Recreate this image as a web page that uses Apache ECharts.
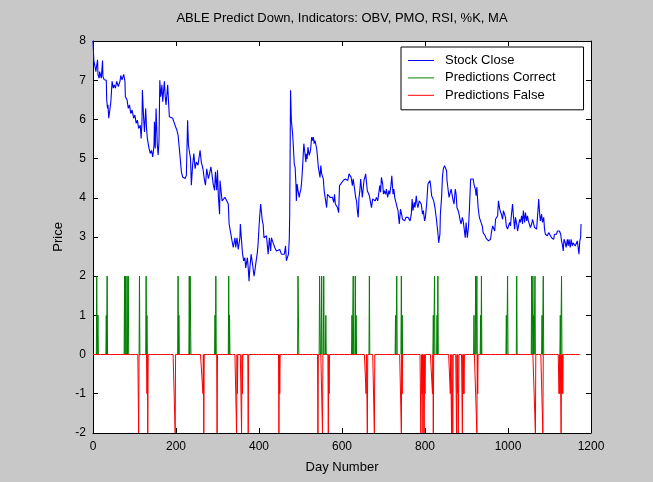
<!DOCTYPE html>
<html><head><meta charset="utf-8">
<script src="https://cdn.jsdelivr.net/npm/echarts@6/dist/echarts.min.js"></script>
<style>html,body{margin:0;padding:0;background:#c8c8c8}#c{width:653px;height:482px}</style>
</head><body><div id="c"></div>
<script>
const titleText = 'ABLE Predict Down, Indicators: OBV, PMO, RSI, %K, MA';
const xName = 'Day Number';
const yName = 'Price';
const seriesNames = ['Stock Close', 'Predictions Correct', 'Predictions False'];
const lastDay = 1173;

const closeDay = [0,2,4,7,8,11,12,15,16,19,20,23,24,27,30,32,33,35,36,38,41,43,46,49,51,54,57,61,65,67,70,74,77,78,82,85,88,91,94,98,101,104,107,110,114,116,118,119,122,124,127,129,131,135,138,141,144,147,148,150,152,155,157,159,161,163,166,168,172,174,176,180,182,184,188,192,196,199,202,205,208,211,213,216,219,222,225,228,230,233,235,237,240,243,246,249,253,256,258,261,265,268,271,274,278,281,284,287,290,293,295,298,300,302,
303,305,306,308,311,314,318,322,326,328,331,335,338,342,344,347,350,354,355,358,360,363,366,368,372,374,376,378,381,384,388,390,392,396,398,400,402,404,406,408,410,412,415,418,422,425,428,430,434,438,442,446,450,454,458,461,464,466,469,471,473,474,476,478,481,482,485,487,489,490,492,494,497,498,501,503,505,508,510,513,514,516,518,521,524,527,529,531,533,535,539,541,543,547,549,551,555,557,559,563,565,567,571,575,577,580,582,584,587,589,592,594,596,
603,608,614,617,622,625,627,630,633,635,637,639,641,643,645,647,649,653,655,657,659,661,663,666,669,671,674,677,680,683,686,689,691,693,695,698,700,702,705,707,710,713,715,718,720,723,725,727,730,733,735,738,741,743,746,749,751,754,757,759,762,764,767,769,771,774,776,779,781,783,786,789,791,794,796,799,801,804,807,809,812,814,816,819,821,824,826,828,831,833,836,837,840,842,844,847,849,852,853,856,858,861,863,865,868,870,873,875,877,880,882,885,887,890,892,894,897,899,
900,902,905,907,910,911,914,916,918,920,922,923,925,927,928,930,931,933,935,938,940,943,945,947,950,953,955,958,960,963,965,968,970,972,975,977,980,982,984,987,989,992,994,996,999,1001,1004,1006,1008,1011,1013,1016,1018,1021,1023,1025,1028,1030,1033,1035,1037,1040,1042,1045,1047,1049,1052,1054,1057,1059,1061,1064,1066,1069,1071,1074,1076,1078,1081,1083,1086,1088,1090,1093,1095,1098,1100,1102,1105,1107,1110,1112,1114,1117,1119,1122,1124,1127,1129,1131,1133,1135,1138,1140,1143,1145,1147,1150,1152,1155,1157,1159,1162,1164,1167,1169,1171,1173,1175,1176];
const closePrice = [8.0,7.5,7.39,7.22,7.31,7.52,7.14,7.05,7.22,7.18,7.05,7.5,7.09,7.01,7.01,7.0,6.5,6.28,6.37,6.03,6.28,6.45,6.97,6.8,6.88,6.8,6.97,6.84,6.97,7.12,7.01,7.15,6.97,6.58,6.5,6.28,6.37,6.15,6.24,6.03,6.11,5.9,5.98,5.77,5.85,5.51,5.94,6.75,6.03,5.68,6.28,5.77,5.51,5.26,5.13,5.21,5.04,5.34,5.94,5.26,6.28,5.34,5.09,5.43,7.0,6.58,6.88,6.45,6.97,6.58,6.37,6.88,6.45,6.07,6.03,6.03,5.98,5.81,5.73,5.6,5.26,4.91,4.66,4.53,4.57,4.49,4.57,5.98,5.34,5.13,5.0,4.32,4.83,5.13,4.74,4.91,4.83,4.79,5.21,4.91,4.74,4.49,4.32,4.74,4.49,4.62,4.79,4.57,4.32,4.19,4.66,4.19,4.7,4.06,
4.01,3.58,4.44,4.48,3.92,3.97,4.01,3.97,3.84,3.33,3.15,2.9,2.73,2.98,2.73,2.98,2.68,2.98,3.33,2.9,2.6,2.39,2.47,2.21,2.47,2.21,1.87,2.21,2.56,2.34,2.0,2.13,2.3,2.6,2.85,3.24,3.58,3.84,3.62,3.41,3.32,2.98,2.98,3.03,2.56,2.98,2.64,2.98,2.85,2.73,2.64,2.6,2.68,2.56,2.51,2.56,2.77,2.39,2.34,2.56,2.94,3.58,6.74,5.97,5.63,5.46,4.86,4.78,4.35,3.92,4.35,4.18,4.01,4.09,4.22,4.44,4.78,5.38,5.2,4.91,5.12,4.99,5.29,5.08,5.2,5.55,5.46,5.55,5.38,5.46,5.25,5.03,4.78,4.52,4.82,4.61,4.48,4.18,4.14,3.75,4.09,4.05,4.01,3.97,4.01,3.88,4.09,3.84,3.88,3.75,3.62,4.31,4.27,
4.44,4.48,4.44,4.61,4.52,4.31,4.48,4.44,4.01,3.92,3.67,3.5,4.01,4.18,4.48,4.44,4.01,4.44,4.52,4.61,4.65,4.18,4.14,4.05,4.01,3.75,3.97,4.01,3.92,4.01,3.92,4.14,4.31,4.14,4.52,4.35,4.09,4.18,4.09,4.22,4.01,4.18,4.09,4.31,4.56,4.09,4.22,4.01,3.97,3.75,3.67,3.33,3.71,3.67,3.45,3.45,3.41,3.5,3.45,3.5,3.45,3.41,3.58,3.97,3.67,3.88,3.75,4.05,3.84,3.75,3.92,3.88,3.84,3.58,3.67,3.41,3.5,3.84,4.35,4.31,4.44,4.27,4.05,4.01,3.92,3.75,3.58,3.41,3.11,2.85,3.07,3.58,4.01,4.52,4.73,4.82,4.78,4.69,4.44,4.18,4.01,4.14,4.22,4.09,3.92,3.84,4.22,4.09,3.75,3.67,3.58,3.41,3.33,3.5,3.41,3.24,2.98,3.37,
3.33,2.98,3.28,3.71,4.48,4.52,4.5,4.48,4.35,4.31,4.18,4.05,4.27,3.92,3.75,3.58,3.5,3.54,3.37,3.28,3.11,3.11,3.03,2.97,2.94,2.9,2.94,2.94,3.11,3.28,3.24,3.15,3.45,3.5,3.54,3.92,3.71,3.71,3.58,3.45,3.67,3.62,3.5,3.28,3.2,3.15,3.37,3.28,3.54,3.84,3.54,3.2,3.5,3.33,3.15,3.11,3.45,3.37,3.54,3.33,3.67,3.37,3.62,3.41,3.54,3.41,3.37,3.24,3.33,3.45,3.37,3.24,3.28,3.2,3.5,3.97,3.62,3.41,3.58,3.37,3.5,3.2,3.07,3.11,3.03,3.11,3.07,3.11,2.98,3.03,2.94,3.07,3.11,3.07,3.15,3.2,3.15,3.07,2.9,2.81,2.64,2.94,2.85,2.73,2.94,2.77,2.94,2.73,2.94,2.77,2.85,2.85,2.77,2.81,2.9,2.73,2.56,2.9,2.98,3.33];

const correctDay = [9,12,32,34,76,78,82,85,112,128,130,205,207,232,234,235,294,296,327,329,494,495,546,547,551,556,561,624,627,632,634,666,729,732,743,745,820,823,829,831,918,922,925,934,936,996,999,1021,1057,1059,1060,1062,1064,1065,1082,1085,1126,1129];
const correctVal = [2,1,1,2,2,2,2,2,2,2,1,2,1,2,2,2,1,2,2,1,2,1,2,1,2,2,1,1,2,2,1,2,1,2,2,1,1,2,1,2,1,2,2,1,2,1,2,2,2,1,2,1,1,2,1,2,1,2];

const falseDay = [110,130,132,198,265,267,299,346,348,358,360,374,448,450,542,553,567,569,658,661,678,743,745,790,791,793,795,797,798,800,818,820,861,863,864,866,867,875,876,878,880,881,889,890,892,894,925,927,1066,1084,1123,1125,1127,1128,1130,1132];
const falseVal = [-2,-1,-2,-2,-1,-2,-2,-2,-1,-2,-1,-2,-2,-1,-2,-2,-2,-1,-1,-2,-2,-2,-1,-2,-1,-1,-2,-1,-2,-1,-1,-2,-1,-1,-2,-1,-2,-1,-2,-1,-2,-1,-1,-2,-1,-1,-2,-1,-2,-2,-1,-1,-1,-2,-1,-1];

// full series: zero baseline with spikes
function spikeSeries(days, vals, n) {
  const arr = new Array(n + 1).fill(0);
  days.forEach((d, i) => { arr[d] = vals[i]; });
  return arr.map((v, i) => [i, v]);
}
// spikes only (baseline hidden below the other series): keep zero neighbours, gaps elsewhere
function spikesOnly(days, vals, n) {
  const arr = new Array(n + 1).fill(null);
  days.forEach((d, i) => {
    arr[d] = vals[i];
    if (d - 1 >= 0 && arr[d - 1] === null) arr[d - 1] = 0;
    if (d + 1 <= n && arr[d + 1] === null) arr[d + 1] = 0;
  });
  return arr.map((v, i) => [i, v === null ? '-' : v]);
}

const FONT = "'Liberation Sans', Arial, sans-serif";
const chart = echarts.init(document.getElementById('c'), null, {renderer: 'canvas'});
const axisCommon = {
  axisLine: {show: true, onZero: false, lineStyle: {color: '#000', width: 1}},
  axisTick: {show: true, inside: true, length: 5, lineStyle: {color: '#000'}},
  splitLine: {show: false}
};
const lineIcon = 'path://M0,0H26V1H0Z';
chart.setOption({
  animation: false,
  backgroundColor: '#c8c8c8',
  textStyle: {fontFamily: FONT},
  grid: {left: 93, right: 62, top: 41, bottom: 49.125, show: true, backgroundColor: '#fff', borderWidth: 0},
  graphic: [{
    type: 'text', x: 342, y: 18,
    style: {text: titleText, fontSize: 13, fontFamily: FONT, fill: '#000', textAlign: 'center', textVerticalAlign: 'middle'}
  }],
  legend: {
    orient: 'vertical', left: 401, top: 47,
    backgroundColor: '#fff', borderColor: '#000', borderWidth: 1, borderRadius: 0,
    padding: [7, 28, 8, 7], itemWidth: 26, itemHeight: 14, itemGap: 4.4,
    symbolKeepAspect: true,
    textStyle: {fontSize: 13, color: '#000', fontFamily: FONT, padding: [0, 0, 0, 6]},
    data: seriesNames.map(n => ({name: n, icon: lineIcon}))
  },
  xAxis: [
    Object.assign({type: 'value', position: 'bottom', min: 0, max: 1200, interval: 200,
      axisLabel: {color: '#000', fontSize: 12, margin: 8, fontFamily: FONT, formatter: v => String(v)},
      name: xName, nameLocation: 'middle', nameGap: 28,
      nameTextStyle: {color: '#000', fontSize: 13, fontFamily: FONT}}, axisCommon),
    Object.assign({type: 'value', position: 'top', min: 0, max: 1200, interval: 200,
      axisLabel: {show: false}}, axisCommon)
  ],
  yAxis: [
    Object.assign({type: 'value', position: 'left', min: -2, max: 8, interval: 1,
      axisLabel: {color: '#000', fontSize: 12, margin: 7, fontFamily: FONT, formatter: v => String(v)},
      name: yName, nameLocation: 'middle', nameGap: 24,
      nameTextStyle: {color: '#000', fontSize: 13, fontFamily: FONT}}, axisCommon),
    Object.assign({type: 'value', position: 'right', min: -2, max: 8, interval: 1,
      axisLabel: {show: false}}, axisCommon)
  ],
  series: [
    {name: seriesNames[0], type: 'line', symbol: 'none', showSymbol: false,
     data: closeDay.map((d, i) => [d, closePrice[i]]),
     lineStyle: {color: '#0000ff', width: 1.1}, itemStyle: {color: '#0000ff'}},
    {name: seriesNames[1], type: 'line', symbol: 'none', showSymbol: false, connectNulls: false,
     data: spikesOnly(correctDay, correctVal, lastDay),
     lineStyle: {color: '#008000', width: 1}, itemStyle: {color: '#008000'}},
    {name: seriesNames[2], type: 'line', symbol: 'none', showSymbol: false,
     data: spikeSeries(falseDay, falseVal, lastDay),
     lineStyle: {color: '#ff0000', width: 1}, itemStyle: {color: '#ff0000'}}
  ]
});
</script>
</body></html>
